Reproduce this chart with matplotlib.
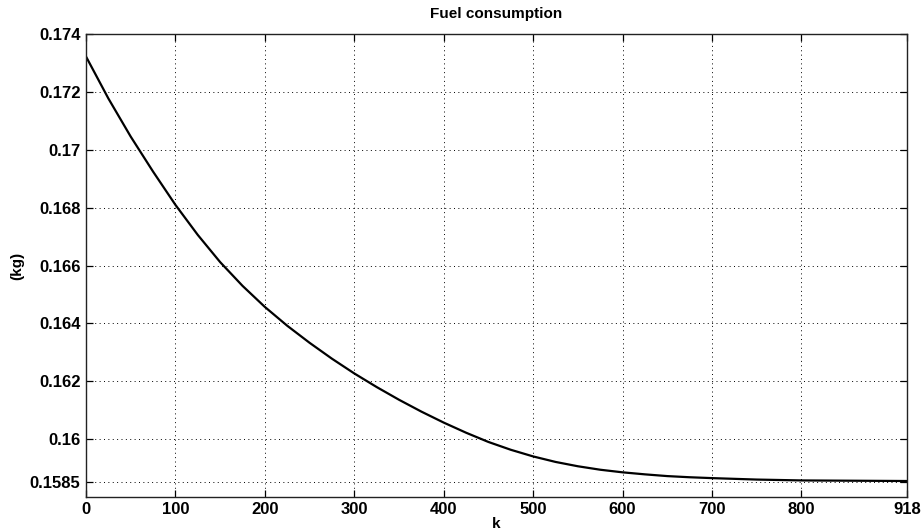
import numpy as np
import matplotlib
matplotlib.use("Agg")
import matplotlib.pyplot as plt

# values
k_steps = [0, 25, 50, 75, 100, 125, 150, 175, 200, 225, 250, 275, 300, 325,
           350, 375, 400, 425, 450, 475, 500, 525, 550, 575, 600, 625, 650,
           675, 700, 750, 800, 918]
fuel_kg = [0.17323, 0.17178, 0.17046, 0.16925, 0.16810, 0.16706, 0.16612,
           0.16530, 0.16457, 0.16392, 0.16333, 0.16278, 0.16227, 0.16180,
           0.16136, 0.16095, 0.16057, 0.16022, 0.15990, 0.15963, 0.15940,
           0.15921, 0.15906, 0.15894, 0.15885, 0.15878, 0.15872, 0.15868,
           0.15865, 0.15860, 0.15857, 0.15855]

x_ticks = [0, 100, 200, 300, 400, 500, 600, 700, 800, 918]
y_ticks = [0.1585, 0.160, 0.162, 0.164, 0.166, 0.168, 0.170, 0.172, 0.174]
y_tick_labels = ["0.1585", "0.16", "0.162", "0.164", "0.166", "0.168",
                 "0.17", "0.172", "0.174"]

plt.rcParams['font.family'] = ['Liberation Sans', 'DejaVu Sans']
plt.rcParams['font.weight'] = 'bold'

fig = plt.figure(figsize=(9.22, 5.31), dpi=100)
ax = fig.add_axes([0.0933, 0.0642, 0.8904, 0.8712])

ax.plot(k_steps, fuel_kg, color='black', linewidth=1.6)

ax.set_xlim(0, 918)
ax.set_ylim(0.158, 0.174)
ax.set_xticks(x_ticks)
ax.set_yticks(y_ticks)
ax.set_yticklabels(y_tick_labels)

ax.grid(True, color='black', linestyle=(0, (1, 3.5)), linewidth=0.7)
ax.tick_params(direction='in', top=True, right=True, length=5,
               width=0.9, labelsize=12, pad=4)
for lbl in ax.get_xticklabels() + ax.get_yticklabels():
    lbl.set_fontweight('bold')
for sp in ax.spines.values():
    sp.set_linewidth(1.0)
    sp.set_color('#222222')

ax.set_title("Fuel consumption", fontsize=11, fontweight='bold', pad=12)
ax.set_xlabel("k", fontsize=11, fontweight='bold', labelpad=0)
ax.set_ylabel("(kg)", fontsize=11, fontweight='bold', labelpad=4)

fig.savefig("out.png", dpi=100)
